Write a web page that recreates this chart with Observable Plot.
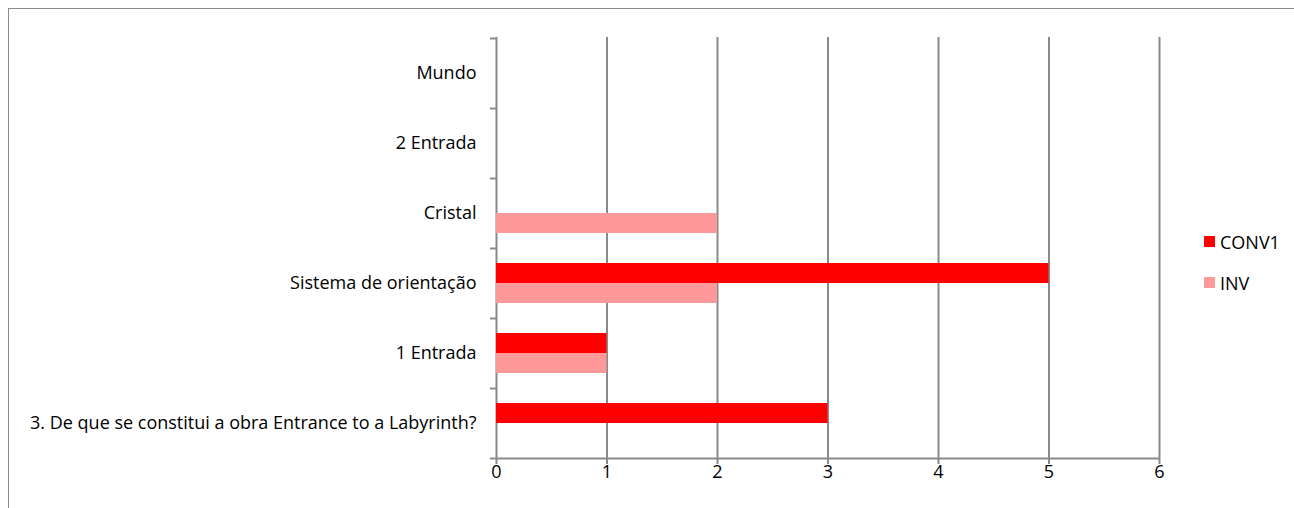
<!DOCTYPE html>
<html><head><meta charset="utf-8">
<script src="https://cdn.jsdelivr.net/npm/d3@7"></script>
<script src="https://cdn.jsdelivr.net/npm/@observablehq/plot@0.6"></script>
<style>
body{margin:0;background:#fff;}
#wrap{position:relative;width:1294px;height:508px;overflow:hidden;font-family:"Open Sans",sans-serif;}
#frame{position:absolute;left:8px;top:8px;width:1320px;height:540px;border:1.5px solid #8c8c8c;box-sizing:border-box;pointer-events:none;}
#chart{position:absolute;left:0;top:0;}
#legend{position:absolute;left:1204px;top:221px;font-size:18px;color:#000;}
.item{display:flex;align-items:center;height:41px;}
.sw{width:11px;height:11px;margin-right:5px;}
</style>
</head><body>
<div id="wrap"><div id="chart"></div><div id="frame"></div><div id="legend"></div></div>
<script>
const categories = ["Mundo","2 Entrada","Cristal","Sistema de orientação","1 Entrada","3. De que se constitui a obra Entrance to a Labyrinth?"];
const conv1 = [0,0,0,5,1,3];
const inv = [0,0,2,2,1,0];
const seriesNames = ["CONV1","INV"];
const seriesColors = ["#ff0000","#ff9999"];
const xTicks = [0,1,2,3,4,5,6];

const convRows = categories.map((c,i)=>({category:c, value:conv1[i]}));
const invRows = categories.map((c,i)=>({category:c, value:inv[i]}));
const last = categories[categories.length-1];
const gray = "#8a8a8a";

const chart = Plot.plot({
  width:1294, height:508,
  marginLeft:496, marginRight:135, marginTop:37, marginBottom:50,
  style:{fontFamily:"'Open Sans',sans-serif", fontSize:"18px", color:"#000", background:"transparent"},
  x:{domain:[0,6], ticks:xTicks, label:null},
  y:{domain:categories, padding:0, label:null},
  marks:[
    Plot.gridX(xTicks,{stroke:gray, strokeOpacity:1, strokeWidth:2}),
    Plot.barX(convRows,{x:"value", y:"category", fill:seriesColors[0], insetTop:15, insetBottom:35}),
    Plot.barX(invRows,{x:"value", y:"category", fill:seriesColors[1], insetTop:35, insetBottom:15}),
    Plot.ruleY(categories,{y:d=>d, x1:-0.055, x2:0, dy:-35, stroke:gray, strokeWidth:2}),
    Plot.ruleY([last],{y:d=>d, x1:-0.055, x2:6, dy:35, stroke:gray, strokeWidth:2}),
    Plot.axisX(xTicks,{tickSize:6, tickPadding:1, stroke:gray, strokeWidth:2, fill:"#000", fontSize:18, label:null}),
    Plot.axisY({tickSize:0, tickPadding:20, fill:"#000", fontSize:18, label:null})
  ]
});
document.getElementById("chart").appendChild(chart);

const lg = document.getElementById("legend");
seriesNames.forEach((n,i)=>{
  const d = document.createElement("div"); d.className="item";
  const s = document.createElement("div"); s.className="sw"; s.style.background=seriesColors[i];
  const t = document.createElement("span"); t.textContent=n;
  d.appendChild(s); d.appendChild(t); lg.appendChild(d);
});
</script>
</body></html>
